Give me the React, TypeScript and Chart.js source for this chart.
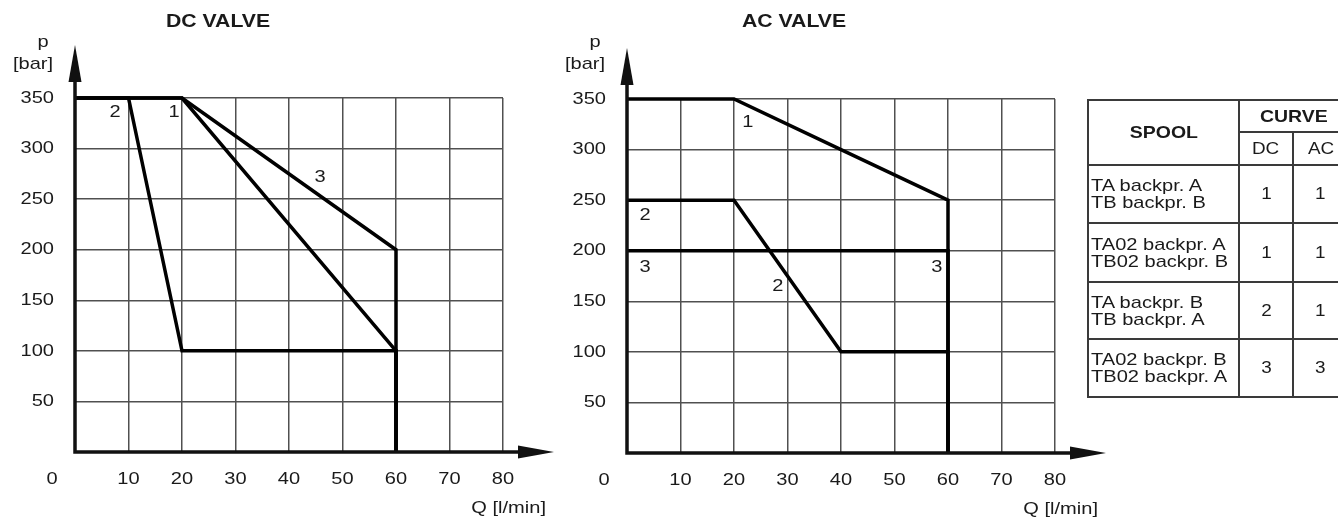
import React, { useEffect, useRef } from 'react';
import { Chart, LineController, LineElement, PointElement, LinearScale } from 'chart.js';

Chart.register(LineController, LineElement, PointElement, LinearScale);

// axis ticks
const qTicks = [0, 10, 20, 30, 40, 50, 60, 70, 80];
const pTicks = [50, 100, 150, 200, 250, 300, 350];

// DC valve curves (Q in l/min, p in bar)
const dcQ1 = [0, 20, 60, 60];
const dcP1 = [350, 350, 100, 0];
const dcQ2 = [0, 10, 20, 60, 60];
const dcP2 = [350, 350, 100, 100, 0];
const dcQ3 = [0, 20, 60, 60];
const dcP3 = [350, 350, 200, 0];
const dcLabelText = ['2', '1', '3'];
const dcLabelQ = [7.5, 18.5, 45.8];
const dcLabelP = [336, 336, 272];

// AC valve curves
const acQ1 = [0, 20, 40, 60, 60];
const acP1 = [350, 350, 300, 250, 0];
const acQ2 = [0, 20, 40, 60, 60];
const acP2 = [250, 250, 100, 100, 0];
const acQ3 = [0, 60, 60];
const acP3 = [200, 200, 0];
const acLabelText = ['1', '2', '3', '3', '2'];
const acLabelQ = [22.6, 3.4, 3.4, 57.9, 28.2];
const acLabelP = [327, 235, 184, 184, 165];

// spool table
const spoolRows = [
    ['TA backpr. A', 'TB backpr. B'],
    ['TA02 backpr. A', 'TB02 backpr. B'],
    ['TA backpr. B', 'TB backpr. A'],
    ['TA02 backpr. B', 'TB02 backpr. A'],
];
const dcCurve = [1, 1, 2, 3];
const acCurve = [1, 1, 1, 3];

const FONT = '"Liberation Sans", Arial, Helvetica, sans-serif';
const SX = 1.18; // the source lettering is a bit wider than Arial
const INK = '#1a1a1a';

const drawText = (ctx: CanvasRenderingContext2D, text: string, x: number, y: number,
    align: 'left' | 'center' | 'right', size: number, bold = false) => {
    ctx.save();
    ctx.font = `${bold ? 'bold ' : ''}${size}px ${FONT}`;
    ctx.textBaseline = 'middle';
    ctx.textAlign = 'left';
    ctx.fillStyle = INK;
    const w = ctx.measureText(text).width * SX;
    const x0 = align === 'center' ? x - w / 2 : align === 'right' ? x - w : x;
    ctx.translate(x0, y);
    ctx.scale(SX, 1);
    ctx.fillText(text, 0, 0);
    ctx.restore();
};

interface ValveChartProps {
    title: string;
    titleX: number;
    curves: { q: number[]; p: number[] }[];
    labelText: string[];
    labelQ: number[];
    labelP: number[];
    top: number;
    bottom: number;
    arrowTipY: number;
    left: number;
}

const ValveChart: React.FC<ValveChartProps> = (props) => {
    const canvasRef = useRef<HTMLCanvasElement>(null);

    useEffect(() => {
        if (!canvasRef.current) return;
        const ctx = canvasRef.current.getContext('2d');
        if (!ctx) return;

        const decorations = {
            id: 'decorations',
            afterDraw: (chart: Chart) => {
                const c = chart.ctx;
                const { left, bottom } = chart.chartArea;
                const xs = chart.scales.x;
                const ys = chart.scales.y;

                // axes with arrow heads
                c.save();
                c.strokeStyle = '#111';
                c.fillStyle = '#111';
                c.lineWidth = 3.5;
                const tipX = left + 479;
                c.beginPath();
                c.moveTo(left - 1.75, bottom);
                c.lineTo(tipX - 30, bottom);
                c.moveTo(left, bottom);
                c.lineTo(left, props.arrowTipY + 30);
                c.stroke();
                c.beginPath();
                c.moveTo(tipX, bottom);
                c.lineTo(tipX - 36, bottom - 6.5);
                c.lineTo(tipX - 36, bottom + 6.5);
                c.closePath();
                c.fill();
                c.beginPath();
                c.moveTo(left, props.arrowTipY);
                c.lineTo(left - 6.5, props.arrowTipY + 37);
                c.lineTo(left + 6.5, props.arrowTipY + 37);
                c.closePath();
                c.fill();
                c.restore();

                // tick labels
                qTicks.forEach(v => {
                    const px = v === 0 ? left - 23 : xs.getPixelForValue(v);
                    drawText(c, String(v), px, bottom + 27, 'center', 17);
                });
                pTicks.forEach(v => {
                    drawText(c, String(v), left - 21, ys.getPixelForValue(v), 'right', 17);
                });

                // axis titles
                drawText(c, 'p', left - 32, 42, 'center', 17);
                drawText(c, '[bar]', left - 42, 64, 'center', 17);
                drawText(c, 'Q [l/min]', left + 471, bottom + 56, 'right', 17);
                drawText(c, props.title, left + props.titleX, 22, 'center', 18, true);

                // curve numbers
                props.labelText.forEach((t, i) => {
                    drawText(c, t, xs.getPixelForValue(props.labelQ[i]), ys.getPixelForValue(props.labelP[i]), 'center', 17);
                });
            },
        };

        const chart = new Chart(ctx, {
            type: 'line',
            data: {
                datasets: props.curves.map(cv => ({
                    data: cv.q.map((q, i) => ({ x: q, y: cv.p[i] })),
                    borderColor: '#000',
                    borderWidth: 3.5,
                    pointRadius: 0,
                    fill: false,
                    tension: 0,
                    clip: false,
                })),
            },
            options: {
                animation: false,
                responsive: false,
                events: [],
                layout: { padding: { top: props.top, right: 57, left: 0, bottom: 0 } },
                scales: {
                    x: {
                        type: 'linear',
                        min: 0,
                        max: 80,
                        afterBuildTicks: (scale) => { scale.ticks = qTicks.map(v => ({ value: v })); },
                        afterFit: (scale) => { scale.height = 521 - props.bottom; },
                        ticks: { display: false },
                        grid: { color: '#505050', lineWidth: 1.5, drawTicks: false },
                        border: { display: false },
                    },
                    y: {
                        type: 'linear',
                        min: 0,
                        max: 350,
                        afterBuildTicks: (scale) => { scale.ticks = [0, ...pTicks].map(v => ({ value: v })); },
                        afterFit: (scale) => { scale.width = 75; },
                        ticks: { display: false },
                        grid: { color: '#505050', lineWidth: 1.5, drawTicks: false },
                        border: { display: false },
                    },
                },
                plugins: {
                    legend: { display: false },
                    tooltip: { enabled: false },
                    title: { display: false },
                },
            },
            plugins: [decorations],
        });

        return () => {
            chart.destroy();
        };
    }, []);

    return (
        <canvas
            ref={canvasRef}
            width={560}
            height={521}
            style={{ position: 'absolute', left: props.left, top: 0, width: 560, height: 521 }}
        />
    );
};

const cellBorder = '2px solid #3a3a3a';

const Stretch: React.FC<{ origin: string; children: React.ReactNode }> = ({ origin, children }) => (
    <span style={{ display: 'inline-block', transform: `scaleX(${SX})`, transformOrigin: origin }}>{children}</span>
);

const SpoolTable: React.FC = () => {
    const rowHeights = [58, 59, 57, 58];
    const td: React.CSSProperties = { border: cellBorder, padding: 0, textAlign: 'center', verticalAlign: 'middle' };
    return (
        <table
            style={{
                position: 'absolute', left: 1087, top: 99, borderCollapse: 'collapse', tableLayout: 'fixed',
                width: 260, fontFamily: FONT, color: INK, fontSize: 16,
            }}
        >
            <colgroup>
                <col style={{ width: 151 }} />
                <col style={{ width: 54 }} />
                <col style={{ width: 55 }} />
            </colgroup>
            <tbody>
                <tr style={{ height: 32 }}>
                    <td rowSpan={2} style={{ ...td, fontWeight: 'bold', fontSize: 16.5 }}><Stretch origin="center">SPOOL</Stretch></td>
                    <td colSpan={2} style={{ ...td, fontWeight: 'bold', fontSize: 16.5, textAlign: 'left', paddingLeft: 20 }}><Stretch origin="left">CURVE</Stretch></td>
                </tr>
                <tr style={{ height: 33 }}>
                    <td style={td}><Stretch origin="center">DC</Stretch></td>
                    <td style={{ ...td, textAlign: 'left', paddingLeft: 14 }}><Stretch origin="left">AC</Stretch></td>
                </tr>
                {spoolRows.map((r, i) => (
                    <tr key={i} style={{ height: rowHeights[i] }}>
                        <td style={{ ...td, textAlign: 'left', paddingLeft: 2, fontSize: 17, lineHeight: '17px' }}>
                            <Stretch origin="left">{r[0]}<br />{r[1]}</Stretch>
                        </td>
                        <td style={td}><Stretch origin="center">{dcCurve[i]}</Stretch></td>
                        <td style={{ ...td, textAlign: 'left', paddingLeft: 21 }}><Stretch origin="left">{acCurve[i]}</Stretch></td>
                    </tr>
                ))}
            </tbody>
        </table>
    );
};

const App: React.FC = () => {
    return (
        <div style={{ position: 'fixed', left: 0, top: 0, width: 1338, height: 521, overflow: 'hidden', background: '#fff' }}>
            <ValveChart
                title="DC VALVE"
                titleX={143}
                curves={[{ q: dcQ1, p: dcP1 }, { q: dcQ2, p: dcP2 }, { q: dcQ3, p: dcP3 }]}
                labelText={dcLabelText}
                labelQ={dcLabelQ}
                labelP={dcLabelP}
                top={98}
                bottom={452}
                arrowTipY={45}
                left={0}
            />
            <ValveChart
                title="AC VALVE"
                titleX={167}
                curves={[{ q: acQ1, p: acP1 }, { q: acQ2, p: acP2 }, { q: acQ3, p: acP3 }]}
                labelText={acLabelText}
                labelQ={acLabelQ}
                labelP={acLabelP}
                top={99}
                bottom={453}
                arrowTipY={48}
                left={552}
            />
            <SpoolTable />
        </div>
    );
};

export default App;
